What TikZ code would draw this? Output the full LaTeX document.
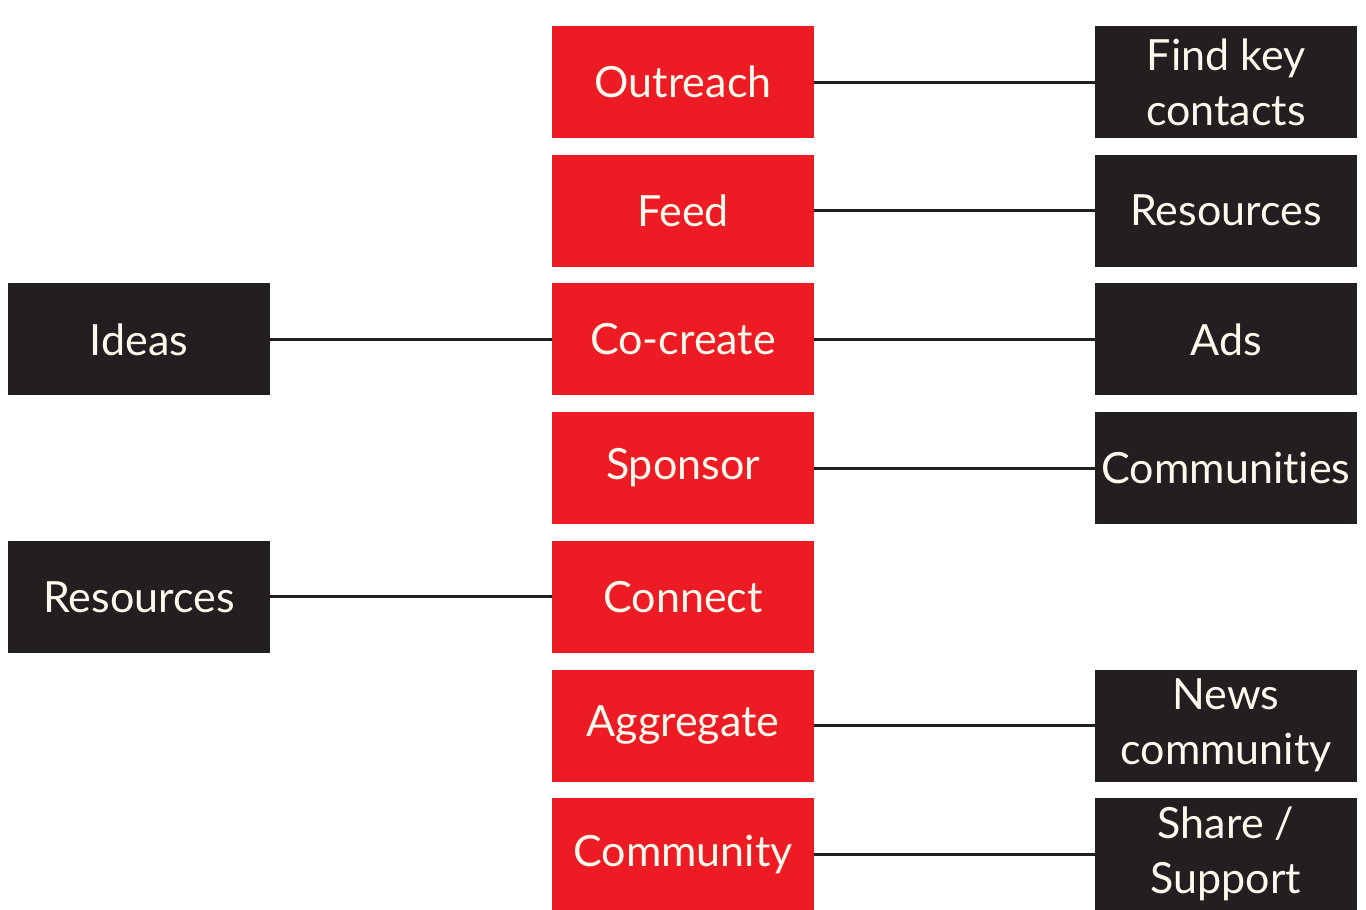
\documentclass[tikz,border=0pt]{standalone}
\usepackage{fontspec}
\setmainfont{Lato}[Ligatures={NoCommon}]
\begin{document}
\definecolor{boxred}{HTML}{ED1C24}
\definecolor{boxblack}{HTML}{231F20}
\definecolor{labelcream}{HTML}{FFF8EC}
\definecolor{linkgray}{HTML}{231F20}
\begin{tikzpicture}[x=1pt,y=-1pt,
  basebox/.style={minimum width=262pt,minimum height=112pt,inner sep=0pt,
    text=labelcream,align=center,
    font=\fontsize{43}{55}\selectfont},
  stage/.style={basebox,fill=boxred},
  item/.style={basebox,fill=boxblack},
  link/.style={draw=linkgray,line width=3pt}]
\useasboundingbox (0,0) rectangle (1366,910);
\fill[white] (0,0) rectangle (1366,910);
\begin{scope}
\clip (0,0) rectangle (1366,910);
% central column of stages
\node[stage] (outreach)  at (683,82)    {Outreach};
\node[stage] (feed)      at (683,210.7) {Feed};
\node[stage] (cocreate)  at (683,339.4) {Co-create};
\node[stage] (sponsor)   at (683,468.1) {Sponsor};
\node[stage] (connect)   at (683,596.8) {Connect};
\node[stage] (aggregate) at (683,725.5) {Aggregate};
\node[stage] (community) at (683,854.2) {Community};
% right-hand items
\node[item] (findkey)   at (1226,82)    {Find key\\contacts};
\node[item] (resR)      at (1226,210.7) {Resources};
\node[item] (ads)       at (1226,339.4) {Ads};
\node[item] (comms)     at (1226,468.1) {Communities};
\node[item] (news)      at (1226,725.5) {News\\community};
\node[item] (share)     at (1226,854.2) {Share /\\Support};
% left-hand items
\node[item] (ideas)     at (139,339.4)  {Ideas};
\node[item] (resL)      at (139,596.8)  {Resources};
% connectors
\draw[link] (outreach.east)  -- (findkey.west);
\draw[link] (feed.east)      -- (resR.west);
\draw[link] (cocreate.east)  -- (ads.west);
\draw[link] (sponsor.east)   -- (comms.west);
\draw[link] (aggregate.east) -- (news.west);
\draw[link] (community.east) -- (share.west);
\draw[link] (ideas.east)     -- (cocreate.west);
\draw[link] (resL.east)      -- (connect.west);
\end{scope}
\end{tikzpicture}
\end{document}
